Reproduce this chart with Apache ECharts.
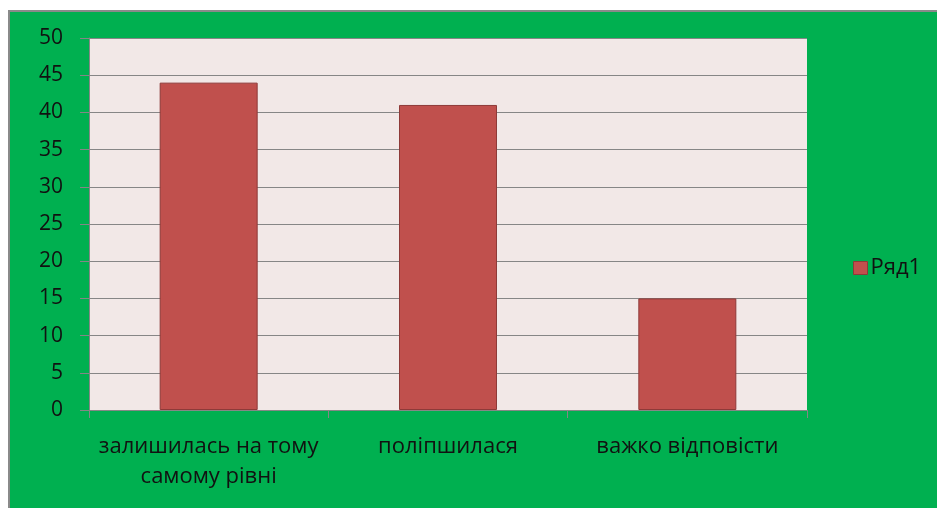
<!DOCTYPE html>
<html>
<head>
<meta charset="utf-8">
<script src="https://cdn.jsdelivr.net/npm/echarts@6/dist/echarts.min.js"></script>
<style>
  html, body { margin: 0; padding: 0; background: #fff; }
  #frame {
    position: absolute;
    left: 8px;
    top: 10px;
    width: 929px;
    height: 498px;
    box-sizing: border-box;
    background: #00b050;
    border-top: 2px solid #8a8a8a;
    border-left: 2px solid #8a8a8a;
  }
  #chart { width: 927px; height: 496px; }
</style>
</head>
<body>
<div id="frame"><div id="chart"></div></div>
<script>
// categories and values
const categories = ["залишилась на тому\nсамому рівні", "поліпшилася", "важко відповісти"];
const values = [44, 41, 15];
const seriesName = "Ряд1";

const font = "'Open Sans', 'Noto Sans', sans-serif";

let chart = echarts.init(document.getElementById("chart"));

let options = {
  backgroundColor: "transparent",
  textStyle: { fontFamily: font },
  legend: {
    show: true,
    left: 838,
    top: 240,
    itemWidth: 14,
    itemHeight: 13,
    itemGap: 6,
    icon: "rect",
    textStyle: { fontSize: 22, color: "#111", fontFamily: font, padding: [0, 0, 0, -2] },
    itemStyle: { borderColor: "#8e3a38", borderWidth: 1 },
    data: [seriesName],
  },
  grid: {
    left: 79,
    top: 26,
    width: 718,
    height: 372,
    show: true,
    backgroundColor: "#f2e8e7",
    borderWidth: 0,
  },
  xAxis: {
    type: "category",
    data: categories,
    axisLine: { show: true, lineStyle: { color: "#868686", width: 1 } },
    axisTick: { show: true, alignWithLabel: false, length: 8, lineStyle: { color: "#868686" } },
    axisLabel: {
      interval: 0,
      hideOverlap: false,
      margin: 22,
      fontSize: 22,
      lineHeight: 30,
      color: "#111",
      fontFamily: font,
    },
  },
  yAxis: {
    type: "value",
    min: 0,
    max: 50,
    interval: 5,
    axisLine: { show: true, lineStyle: { color: "#868686", width: 1 } },
    axisTick: { show: true, length: 9, lineStyle: { color: "#868686" } },
    axisLabel: { margin: 26, fontSize: 21, color: "#111", fontFamily: font },
    splitLine: { show: true, lineStyle: { color: "#868686", width: 1 } },
  },
  series: [
    {
      name: seriesName,
      type: "bar",
      data: values,
      barWidth: 98,
      itemStyle: { color: "#c0504d", borderColor: "#8e3a38", borderWidth: 1 },
    },
  ],
};

chart.setOption(options);
</script>
</body>
</html>
